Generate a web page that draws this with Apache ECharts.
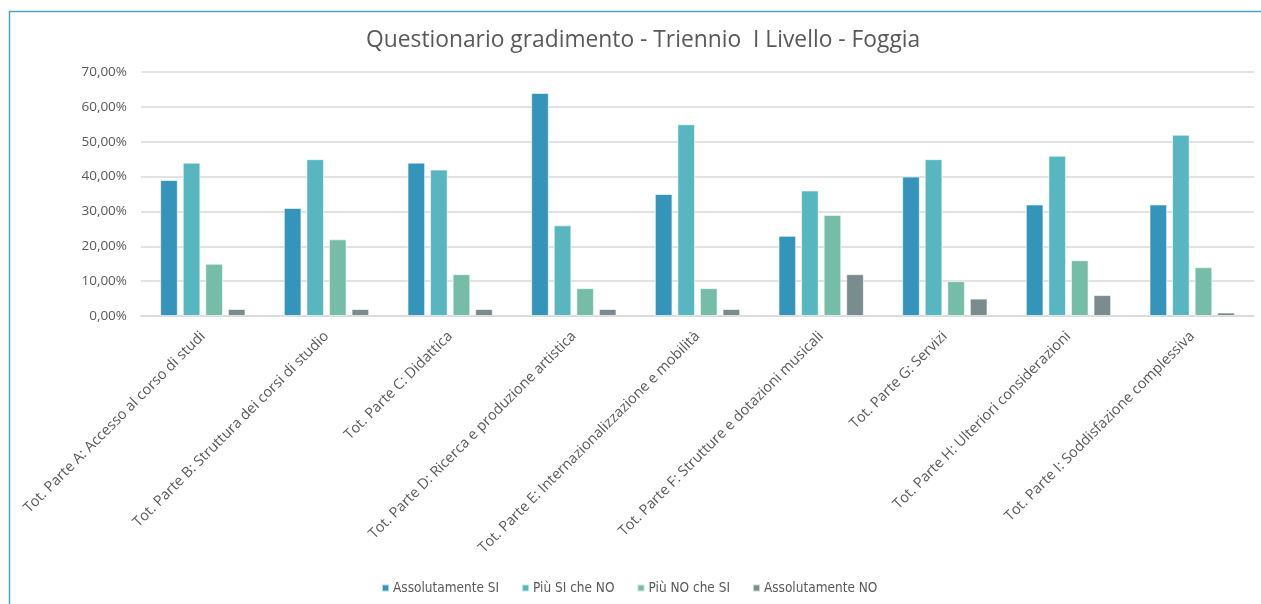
<!DOCTYPE html>
<html>
<head>
<meta charset="utf-8">
<script src="https://cdn.jsdelivr.net/npm/echarts@6/dist/echarts.min.js"></script>
<style>
  html, body { margin: 0; padding: 0; background: #fff; }
  #main { width: 1261px; height: 604px; }
</style>
</head>
<body>
<div id="main"></div>
<script>
// categorie (parti del questionario)
var categories = [
    'Tot. Parte A: Accesso al corso di studi',
    'Tot. Parte B: Struttura dei corsi di studio',
    'Tot. Parte C: Didattica',
    'Tot. Parte D: Ricerca e produzione artistica',
    'Tot. Parte E: Internazionalizzazione e mobilità',
    'Tot. Parte F: Strutture e dotazioni musicali',
    'Tot. Parte G: Servizi',
    'Tot. Parte H: Ulteriori considerazioni',
    'Tot. Parte I: Soddisfazione complessiva'
];
// serie in percentuale
var assolutamenteSi = [39, 31, 44, 64, 35, 23, 40, 32, 32];
var piuSiCheNo = [44, 45, 42, 26, 55, 36, 45, 46, 52];
var piuNoCheSi = [15, 22, 12, 8, 8, 29, 10, 16, 14];
var assolutamenteNo = [2, 2, 2, 2, 2, 12, 5, 6, 1];
var seriesNames = ['Assolutamente SI', 'Più SI che NO', 'Più NO che SI', 'Assolutamente NO'];
var yTicks = [0, 10, 20, 30, 40, 50, 60, 70];

var colors = ['#3494BA', '#58B6C0', '#75BDA7', '#7A8C8E'];
var chart = echarts.init(document.getElementById('main'));

var seriesData = [assolutamenteSi, piuSiCheNo, piuNoCheSi, assolutamenteNo];
var series = [];
for (var i = 0; i < seriesData.length; i++) {
    series.push({
        name: seriesNames[i],
        type: 'bar',
        data: seriesData[i],
        barGap: '28%',
        barCategoryGap: '31%',
        itemStyle: {
            color: colors[i],
            borderColor: 'rgba(255,255,255,0.6)',
            borderWidth: 1
        }
    });
}

var option = {
    backgroundColor: '#fff',
    animation: false,
    color: colors,
    title: {
        text: 'Questionario gradimento - Triennio  I Livello - Foggia',
        left: 361,
        top: 24,
        textStyle: {
            fontFamily: 'Open Sans',
            fontWeight: 'normal',
            fontSize: 22.8,
            color: '#595959'
        }
    },
    legend: {
        bottom: 4,
        left: 376,
        itemWidth: 7,
        itemHeight: 7,
        itemGap: 22,
        icon: 'rect',
        textStyle: {
            fontFamily: 'DejaVu Sans Condensed',
            fontSize: 13.5,
            color: '#595959',
            padding: [0, 0, 0, -1]
        }
    },
    grid: {
        left: 141,
        right: 7,
        top: 72,
        bottom: 288
    },
    xAxis: {
        type: 'category',
        data: categories,
        axisTick: { show: false },
        axisLine: { lineStyle: { color: '#d9d9d9', width: 1.5 } },
        axisLabel: {
            rotate: 45,
            interval: 0,
            margin: 18,
            fontFamily: 'Open Sans',
            fontSize: 14.5,
            color: '#595959'
        }
    },
    yAxis: {
        type: 'value',
        min: yTicks[0],
        max: yTicks[yTicks.length - 1],
        interval: 10,
        axisLine: { show: false },
        axisTick: { show: false },
        splitLine: { lineStyle: { color: '#d9d9d9', width: 1.5 } },
        axisLabel: {
            margin: 14,
            fontFamily: 'Open Sans',
            fontSize: 13.5,
            color: '#595959',
            formatter: function (v) {
                return v.toFixed(2).replace('.', ',') + '%';
            }
        }
    },
    graphic: [{
        type: 'rect',
        shape: { x: 9.5, y: 11.5, width: 1270, height: 620 },
        style: { fill: null, stroke: '#4BA3C8', lineWidth: 1.5 },
        silent: true
    }],
    series: series
};

chart.setOption(option);
</script>
</body>
</html>
